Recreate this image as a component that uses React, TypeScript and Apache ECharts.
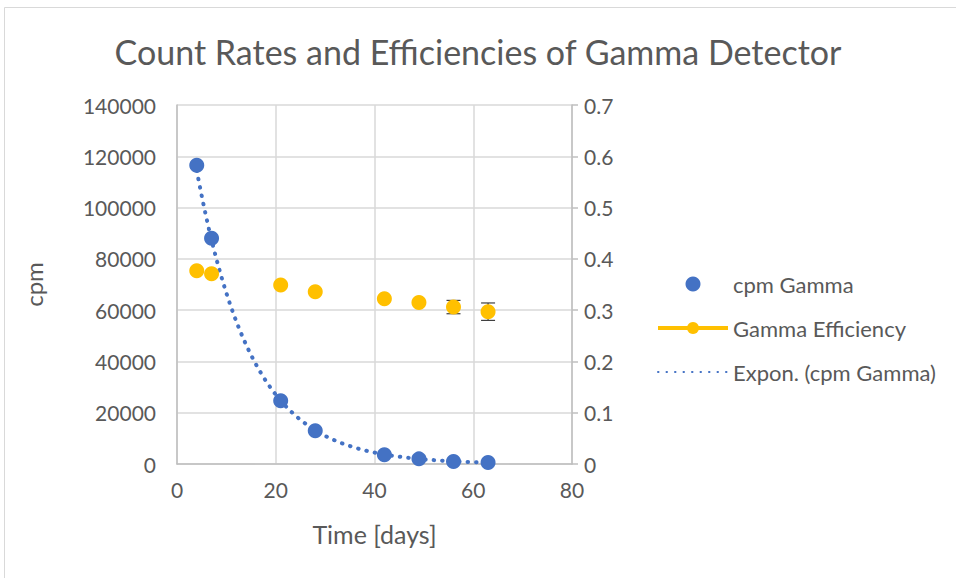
import React, { useEffect, useRef } from "react";
import * as echarts from "echarts";

const days = [4, 7, 21, 28, 42, 49, 56, 63];
const cpmGamma = [116500, 88000, 24700, 13000, 3600, 2000, 1000, 600];
const gammaEfficiency = [0.377, 0.371, 0.349, 0.336, 0.322, 0.315, 0.306, 0.297];
const efficiencyErrors = [0, 0, 0, 0, 0, 0, 0.013, 0.017];
const xTicks = [0, 20, 40, 60, 80];

function expFit(xs: number[], ys: number[]) {
  const n = xs.length;
  const ly = ys.map((v) => Math.log(v));
  const mx = xs.reduce((a, b) => a + b, 0) / n;
  const my = ly.reduce((a, b) => a + b, 0) / n;
  let sxy = 0;
  let sxx = 0;
  for (let i = 0; i < n; i++) {
    sxy += (xs[i] - mx) * (ly[i] - my);
    sxx += (xs[i] - mx) * (xs[i] - mx);
  }
  const b = sxy / sxx;
  const a = Math.exp(my - b * mx);
  return { a, b };
}

export default function App() {
  const ref = useRef<HTMLDivElement>(null);
  useEffect(() => {
    if (!ref.current) return;
    const chart = echarts.init(ref.current, undefined, { renderer: "svg" });
    const { a, b } = expFit(days, cpmGamma);
    const x0 = days[0];
    const x1 = days[days.length - 1];
    const trend: number[][] = [];
    const steps = 120;
    for (let i = 0; i <= steps; i++) {
      const x = x0 + ((x1 - x0) * i) / steps;
      trend.push([x, a * Math.exp(b * x)]);
    }
    const font = "Lato, 'Open Sans', sans-serif";
    const txt = "#595959";
    chart.setOption({
      animation: false,
      backgroundColor: "#ffffff",
      textStyle: { fontFamily: font },
      title: {
        text: "Count Rates and Efficiencies of Gamma Detector",
        left: "center",
        top: 29,
        textStyle: { fontFamily: font, fontSize: 34, fontWeight: "normal", color: txt },
      },
      graphic: [
        {
          type: "rect",
          shape: { x: 4.5, y: 7.5, width: 1000, height: 1000 },
          style: { fill: "none", stroke: "#d9d9d9", lineWidth: 1 },
          silent: true,
        },
      ],
      grid: { left: 177, right: 384, top: 105, bottom: 114, containLabel: false },
      legend: {
        orient: "vertical",
        left: 651,
        top: 268,
        itemWidth: 70,
        itemHeight: 15,
        itemGap: 22,
        textStyle: { fontFamily: font, fontSize: 22, color: txt },
        data: [
          { name: "cpm Gamma" },
          {
            name: "Gamma Efficiency",
            lineStyle: { width: 4, color: "#FFC000", opacity: 1 },
          },
          { name: "Expon. (cpm Gamma)", itemStyle: { opacity: 0 } },
        ],
      },
      xAxis: {
        type: "value",
        min: 0,
        max: 80,
        interval: 20,
        name: "Time [days]",
        nameLocation: "middle",
        nameGap: 57,
        nameTextStyle: { fontFamily: font, fontSize: 25, color: txt },
        axisLine: { show: true, lineStyle: { color: "#bfbfbf", width: 1.5 } },
        axisTick: { show: false },
        axisLabel: {
          fontFamily: font,
          fontSize: 21,
          color: txt,
          margin: 15,
          formatter: (v: number) => (xTicks.includes(v) ? String(v) : ""),
        },
        splitLine: { show: true, lineStyle: { color: "#d9d9d9", width: 1.5 } },
      },
      yAxis: [
        {
          type: "value",
          min: 0,
          max: 140000,
          interval: 20000,
          name: "cpm",
          nameLocation: "middle",
          nameRotate: 90,
          nameGap: 132,
          nameTextStyle: { fontFamily: font, fontSize: 24, color: txt },
          axisLine: { show: true, lineStyle: { color: "#bfbfbf", width: 1.5 } },
          axisTick: { show: false },
          axisLabel: {
            fontFamily: font,
            fontSize: 21,
            color: txt,
            margin: 21,
            formatter: (v: number) => String(v),
          },
          splitLine: { show: true, lineStyle: { color: "#d9d9d9", width: 1.5 } },
        },
        {
          type: "value",
          min: 0,
          max: 0.7,
          interval: 0.1,
          position: "right",
          axisLine: { show: true, lineStyle: { color: "#bfbfbf", width: 1.5 } },
          axisTick: { show: true, length: 6, lineStyle: { color: "#bfbfbf", width: 1.5 } },
          axisLabel: {
            fontFamily: font,
            fontSize: 21,
            color: txt,
            margin: 12,
            formatter: (v: number) => String(Math.round(v * 10) / 10),
          },
          splitLine: { show: false },
        },
      ],
      series: [
        {
          name: "errors",
          type: "custom",
          yAxisIndex: 1,
          z: 2,
          silent: true,
          data: days.map((d, i) => [d, gammaEfficiency[i], efficiencyErrors[i]]),
          renderItem: (params: any, api: any) => {
            const err = api.value(2);
            if (!err) return null;
            const x = api.value(0);
            const y = api.value(1);
            const top = api.coord([x, y + err]);
            const bot = api.coord([x, y - err]);
            const hw = 7;
            const style = { stroke: "#404040", lineWidth: 1.2, fill: "none" };
            return {
              type: "group",
              children: [
                { type: "line", shape: { x1: top[0], y1: top[1], x2: bot[0], y2: bot[1] }, style },
                { type: "line", shape: { x1: top[0] - hw, y1: top[1], x2: top[0] + hw, y2: top[1] }, style },
                { type: "line", shape: { x1: bot[0] - hw, y1: bot[1], x2: bot[0] + hw, y2: bot[1] }, style },
              ],
            };
          },
        },
        {
          name: "cpm Gamma",
          type: "scatter",
          yAxisIndex: 0,
          symbol: "circle",
          symbolSize: 15,
          itemStyle: { color: "#4472C4", opacity: 1 },
          data: days.map((d, i) => [d, cpmGamma[i]]),
          z: 3,
        },
        {
          name: "Gamma Efficiency",
          type: "line",
          yAxisIndex: 1,
          symbol: "circle",
          symbolSize: 15,
          showSymbol: true,
          itemStyle: { color: "#FFC000", opacity: 1 },
          lineStyle: { width: 0, opacity: 0, color: "#FFC000" },
          data: days.map((d, i) => [d, gammaEfficiency[i]]),
          z: 3,
        },
        {
          name: "Expon. (cpm Gamma)",
          type: "line",
          yAxisIndex: 0,
          symbol: "none",
          smooth: false,
          lineStyle: { color: "#4472C4", width: 4, type: [0.5, 8], cap: "round" },
          data: trend,
          z: 2,
        },
      ],
    });
    return () => chart.dispose();
  }, []);
  return (
    <div
      ref={ref}
      style={{ position: "absolute", left: 0, top: 0, width: 956, height: 578 }}
    />
  );
}
